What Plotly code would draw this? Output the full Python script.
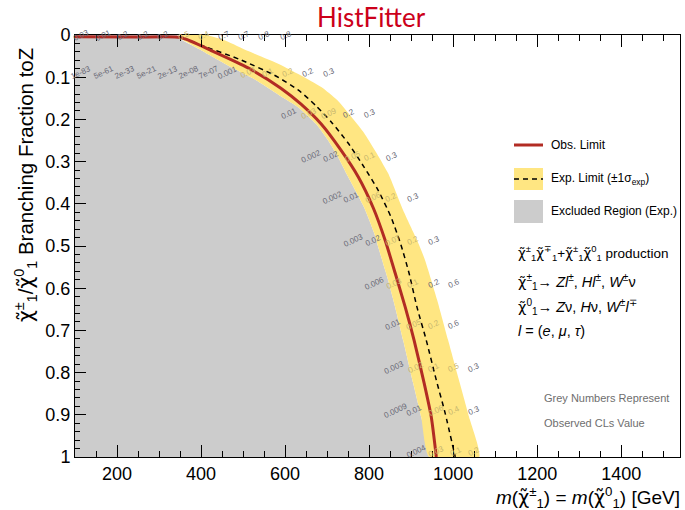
import plotly.graph_objects as go
import numpy as np

# ---------------- data ----------------
# Observed limit contour (mass in GeV, branching fraction)
obs_mass = [100, 250, 352, 431, 512, 590, 638, 686, 733, 774, 810, 838, 862, 886, 907, 931, 948, 960]
obs_bf = [0.004, 0.005, 0.006, 0.040, 0.078, 0.126, 0.164, 0.211, 0.273, 0.336, 0.410, 0.486,
          0.564, 0.645, 0.723, 0.825, 0.905, 1.0]

# Expected limit contour
exp_mass = [100, 250, 352, 400, 495, 574, 631, 674, 710, 750, 788, 821, 852, 876, 895, 914,
            936, 960, 981, 1005]
exp_bf = [0.004, 0.005, 0.006, 0.024, 0.059, 0.095, 0.130, 0.168, 0.206, 0.256, 0.313, 0.367,
          0.431, 0.498, 0.564, 0.645, 0.723, 0.818, 0.896, 1.0]

# -1 sigma (inner) edge of the expected band
band_lo_mass = [343, 400, 471, 531, 590, 631, 674, 702, 726, 750, 788, 812, 824, 845, 862, 881,
                905, 924, 943]
band_lo_bf = [0.005, 0.036, 0.076, 0.107, 0.145, 0.171, 0.211, 0.249, 0.289, 0.336, 0.408, 0.469,
              0.510, 0.580, 0.645, 0.723, 0.825, 0.905, 1.0]

# +1 sigma (outer) edge of the expected band
band_hi_mass = [352, 412, 460, 512, 590, 686, 724, 788, 845, 881, 914, 933, 962, 988, 1014, 1040, 1062]
band_hi_bf = [0.0, 0.0, 0.014, 0.038, 0.071, 0.123, 0.154, 0.232, 0.327, 0.415, 0.486, 0.533,
              0.628, 0.723, 0.818, 0.912, 1.0]

# Observed CLs values printed on the grid
cls_mass = [114, 167, 214, 262, 310, 360, 407, 455, 502, 550, 602,
            114, 167, 217, 269, 321, 369, 417, 464, 512, 560, 607, 655, 705,
            610, 657, 705, 752, 802,
            662, 710, 762, 802, 855,
            714, 757, 810, 852, 905,
            762, 810, 857, 905, 955,
            812, 860, 905, 955, 1002,
            857, 907, 955, 1002,
            860, 912, 955, 1002, 1050,
            864, 907, 960, 1002, 1050,
            912, 960, 1007, 1050]
cls_bf = ([0.0] * 11 + [0.088] * 13 + [0.187] * 5 + [0.289] * 5 + [0.384] * 5 + [0.486] * 5 +
          [0.588] * 5 + [0.687] * 4 + [0.789] * 5 + [0.889] * 5 + [0.986] * 4)
cls_text = ["0.03", "0.01", "0.2", "0.2", "0.2", "0.5", "0.4", "0.7", "0.7", "0.8", "0.8",
            "1e-83", "5e-61", "2e-33", "5e-21", "2e-13", "2e-08", "7e-07", "0.001", "0.03", "0.1",
            "0.2", "0.2", "0.3",
            "0.01", "0.03", "0.09", "0.2", "0.3",
            "0.002", "0.02", "0.05", "0.1", "0.3",
            "0.002", "0.01", "0.06", "0.2", "0.3",
            "0.003", "0.02", "0.07", "0.2", "0.3",
            "0.006", "0.03", "0.1", "0.2", "0.6",
            "0.01", "0.05", "0.2", "0.6",
            "0.003", "0.02", "0.1", "0.5", "0.3",
            "0.0009", "0.01", "0.06", "0.4", "0.3",
            "0.004", "0.03", "0.1", "0.2"]

x_ticks = [200, 400, 600, 800, 1000, 1200, 1400]
y_ticks = [0, 0.1, 0.2, 0.3, 0.4, 0.5, 0.6, 0.7, 0.8, 0.9, 1]
y_ticktext = ["0", "0.1", "0.2", "0.3", "0.4", "0.5", "0.6", "0.7", "0.8", "0.9", "1"]

# ---------------- styling ----------------
RED = "rgb(178,44,36)"
YELLOW = "rgb(255,230,130)"
GREY = "rgb(204,204,204)"
FONT = "Liberation Sans, Arial, sans-serif"
CHI = '<span style="font-family:DejaVu Sans">χ̃</span>'

W, H = 685, 510
ML, MR, MT, MB = 75, 5, 35, 53
PW, PH = W - ML - MR, H - MT - MB


def pxx(p):
    return (p - ML) / PW


def pxy(p):
    return (H - MB - p) / PH


fig = go.Figure()

# Excluded region (grey) : left of the -1 sigma edge
fig.add_trace(go.Scatter(
    x=[100, band_lo_mass[0]] + band_lo_mass + [100],
    y=[0, 0] + band_lo_bf + [1],
    fill="toself", fillcolor=GREY, mode="lines",
    line=dict(width=0, shape="spline", smoothing=0.5),
    hoverinfo="skip", showlegend=False))

# +-1 sigma band
fig.add_trace(go.Scatter(
    x=band_hi_mass + band_lo_mass[::-1],
    y=band_hi_bf + band_lo_bf[::-1],
    fill="toself", fillcolor=YELLOW, mode="lines",
    line=dict(width=0, shape="spline", smoothing=0.5),
    hoverinfo="skip", showlegend=False))

# Expected
fig.add_trace(go.Scatter(x=exp_mass, y=exp_bf, mode="lines",
                         line=dict(color="black", width=1.5, dash="5px,4px", shape="spline",
                                   smoothing=0.6),
                         hoverinfo="skip", showlegend=False))
# Observed
fig.add_trace(go.Scatter(x=obs_mass, y=obs_bf, mode="lines",
                         line=dict(color=RED, width=3, shape="spline", smoothing=0.6),
                         hoverinfo="skip", showlegend=False))

annotations = []
# CLs numbers
for m, b, t in zip(cls_mass, cls_bf, cls_text):
    lo = np.interp(b, band_lo_bf, band_lo_mass)
    hi = np.interp(b, band_hi_bf, band_hi_mass)
    col = "rgb(200,182,110)" if lo <= m <= hi else "rgb(105,105,118)"
    annotations.append(dict(x=m, y=b, xref="x", yref="y", text=t, showarrow=False,
                            textangle=-25, font=dict(family=FONT, size=8, color=col)))

# Title
annotations.append(dict(x=pxx(371), y=pxy(17), xref="paper", yref="paper", text="HistFitter",
                        showarrow=False, xanchor="center", yanchor="middle",
                        font=dict(family="Lato, Liberation Sans, sans-serif", size=26,
                                  color="rgb(204,0,26)")))

# Axis titles
annotations.append(dict(x=pxx(25), y=pxy(185), xref="paper", yref="paper",
                        text=CHI + "<sup>±</sup><sub>1</sub>/" + CHI + "<sup>0</sup><sub>1</sub> Branching Fraction toZ",
                        showarrow=False, textangle=-90, xanchor="center", yanchor="middle",
                        font=dict(family=FONT, size=20.5, color="black")))
annotations.append(dict(x=pxx(682), y=pxy(497), xref="paper", yref="paper",
                        text="<i>m</i>(" + CHI + "<sup>±</sup><sub>1</sub>) = <i>m</i>(" + CHI + "<sup>0</sup><sub>1</sub>) [GeV]",
                        showarrow=False, xanchor="right", yanchor="middle",
                        font=dict(family=FONT, size=19, color="black")))

# Legend
shapes = []
shapes.append(dict(type="line", xref="paper", yref="paper", x0=pxx(514), x1=pxx(543),
                   y0=pxy(145), y1=pxy(145), line=dict(color=RED, width=3)))
shapes.append(dict(type="rect", xref="paper", yref="paper", x0=pxx(514), x1=pxx(543),
                   y0=pxy(190), y1=pxy(168), fillcolor=YELLOW, line=dict(width=0)))
shapes.append(dict(type="line", xref="paper", yref="paper", x0=pxx(514), x1=pxx(543),
                   y0=pxy(179), y1=pxy(179), line=dict(color="black", width=1.5, dash="5px,4px")))
shapes.append(dict(type="rect", xref="paper", yref="paper", x0=pxx(514), x1=pxx(543),
                   y0=pxy(223), y1=pxy(200), fillcolor=GREY, line=dict(width=0)))

for ty, txt in [(145, "Obs. Limit"), (179, "Exp. Limit (±1σ<sub>exp</sub>)"),
                (211, "Excluded Region (Exp.)")]:
    annotations.append(dict(x=pxx(549), y=pxy(ty), xref="paper", yref="paper", text=txt,
                            showarrow=False, xanchor="left", yanchor="middle",
                            font=dict(family=FONT, size=12, color="black")))

proc_lines = [
    (253, 13.5, CHI + "<sup>±</sup><sub>1</sub>" + CHI + "<sup>∓</sup><sub>1</sub>+" + CHI +
     "<sup>±</sup><sub>1</sub>" + CHI + "<sup>0</sup><sub>1</sub> production"),
    (282, 14.5, CHI + "<sup>±</sup><sub>1</sub>→ <i>Zl</i><sup>±</sup>, <i>Hl</i><sup>±</sup>, <i>W</i><sup>±</sup>ν"),
    (307, 14.5, CHI + "<sup>0</sup><sub>1</sub>→ <i>Z</i>ν, <i>H</i>ν, <i>W</i><sup>±</sup><i>l</i><sup>∓</sup>"),
    (331, 14.5, "<i>l</i> = (<i>e</i>, <i>μ</i>, <i>τ</i>)"),
]
for ty, fs, txt in proc_lines:
    annotations.append(dict(x=pxx(516), y=pxy(ty), xref="paper", yref="paper", text=txt,
                            showarrow=False, xanchor="left", yanchor="middle",
                            font=dict(family=FONT, size=fs, color="black")))

for ty, txt in [(398, "Grey Numbers Represent"), (423, "Observed CLs Value")]:
    annotations.append(dict(x=pxx(542), y=pxy(ty), xref="paper", yref="paper", text=txt,
                            showarrow=False, xanchor="left", yanchor="middle",
                            font=dict(family=FONT, size=11, color="rgb(110,110,110)")))

fig.update_layout(
    width=W, height=H,
    margin=dict(l=ML, r=MR, t=MT, b=MB, pad=0),
    paper_bgcolor="white", plot_bgcolor="white",
    font=dict(family=FONT, color="black"),
    showlegend=False,
    hovermode=False,
    annotations=annotations,
    shapes=shapes,
    xaxis=dict(range=[100, 1540], tickvals=x_ticks, ticks="inside", ticklen=12, tickwidth=1,
               tickcolor="black", showline=True, linecolor="black", linewidth=1, mirror="ticks",
               showgrid=False, zeroline=False, tickfont=dict(family=FONT, size=18),
               minor=dict(dtick=50, ticks="inside", ticklen=6, tickcolor="black", showgrid=False)),
    yaxis=dict(range=[1, 0], tickvals=y_ticks, ticktext=y_ticktext, ticks="inside", ticklen=11,
               tickwidth=1, tickcolor="black", showline=True, linecolor="black", linewidth=1,
               mirror=True, showgrid=False, zeroline=False, tickfont=dict(family=FONT, size=18),
               minor=dict(dtick=0.02, ticks="inside", ticklen=5, tickcolor="black", showgrid=False)),
)

fig.write_html("out.html", config={"displayModeBar": False},
               post_script="document.body.style.margin='0';document.body.style.padding='0';")
